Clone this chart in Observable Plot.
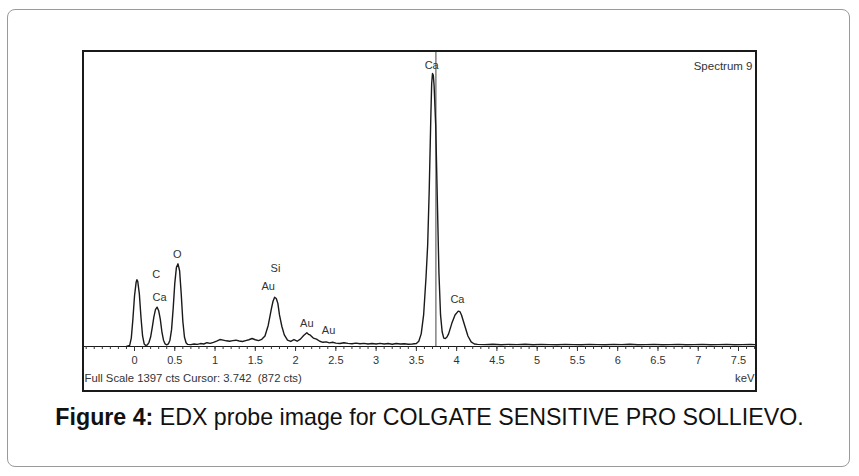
<!DOCTYPE html>
<html>
<head>
<meta charset="utf-8">
<script src="https://cdn.jsdelivr.net/npm/d3@7"></script>
<script src="https://cdn.jsdelivr.net/npm/@observablehq/plot@0.6"></script>
<style>
  html, body { margin: 0; padding: 0; background: #fff; }
  body { width: 859px; height: 476px; position: relative; overflow: hidden; font-family: "Liberation Sans", Arial, sans-serif; }
  #outer { position: absolute; left: 7px; top: 9px; width: 843px; height: 458px; border: 1px solid #9a9a9a; border-radius: 8px; box-sizing: border-box; }
  #box { position: absolute; left: 82px; top: 50px; width: 671px; height: 338px; border: 2px solid #1a1a1a; }
  #box svg { display: block; }
  #caption { position: absolute; left: 0; width: 859px; top: 403px; text-align: center; font-size: 23.2px; line-height: 28px; color: #111; }
</style>
</head>
<body>
<div id="outer"></div>
<div id="box"></div>
<div id="caption"><b>Figure 4:</b> EDX probe image for COLGATE SENSITIVE PRO SOLLIEVO.</div>
<script>
// Spectrum: energy (keV) and counts
const energy = [
  -0.10, -0.06, -0.04, -0.02, 0.00, 0.02, 0.03, 0.04, 0.06, 0.08, 0.10, 0.12, 0.14, 0.16, 0.18,
  0.20, 0.22, 0.24, 0.26, 0.28, 0.30, 0.32, 0.34, 0.36, 0.38, 0.40, 0.42, 0.44, 0.46, 0.48,
  0.50, 0.52, 0.54, 0.56, 0.58, 0.60, 0.62, 0.64, 0.66, 0.70, 0.74, 0.78, 0.82, 0.86, 0.90,
  0.94, 0.98, 1.02, 1.06, 1.10, 1.14, 1.18, 1.22, 1.26, 1.30, 1.34, 1.38, 1.42, 1.46, 1.50,
  1.54, 1.58, 1.62, 1.66, 1.70, 1.72, 1.74, 1.76, 1.78, 1.80, 1.83, 1.86, 1.90, 1.94, 1.98,
  2.02, 2.06, 2.10, 2.14, 2.16, 2.18, 2.22, 2.26, 2.30, 2.34, 2.38, 2.42, 2.46, 2.50, 2.55,
  2.60, 2.65, 2.70, 2.75, 2.80, 2.85, 2.90, 2.95, 3.00, 3.05, 3.10, 3.15, 3.20, 3.25, 3.30,
  3.35, 3.40, 3.45, 3.50, 3.53, 3.56, 3.59, 3.62, 3.64, 3.66, 3.68, 3.69, 3.70, 3.71, 3.72,
  3.74, 3.76, 3.78, 3.80, 3.82, 3.84, 3.86, 3.88, 3.90, 3.94, 3.98, 4.02, 4.04, 4.06, 4.10,
  4.14, 4.18, 4.22, 4.26, 4.35, 4.45, 4.55, 4.65, 4.75, 4.85, 4.95, 5.05, 5.15, 5.25, 5.35,
  5.45, 5.55, 5.65, 5.75, 5.85, 5.95, 6.05, 6.15, 6.25, 6.35, 6.45, 6.55, 6.65, 6.75, 6.85,
  6.95, 7.05, 7.15, 7.25, 7.35, 7.45, 7.55, 7.65, 7.71
];
const counts = [
  0, 5, 40, 130, 240, 305, 317, 310, 250, 140, 50, 12, 5, 8, 20,
  45, 90, 140, 175, 187, 170, 130, 70, 30, 12, 8, 12, 30, 80, 180,
  300, 375, 393, 360, 250, 120, 45, 18, 10, 9, 12, 10, 14, 12, 18,
  15, 20, 26, 33, 30, 27, 25, 28, 30, 26, 24, 28, 32, 38, 32,
  28, 34, 50, 100, 180, 215, 234, 228, 205, 150, 95, 55, 30, 24, 33,
  25, 35, 52, 65, 58, 55, 40, 35, 25, 20, 22, 17, 20, 16, 14,
  18, 15, 13, 16, 13, 15, 12, 14, 12, 15, 12, 14, 11, 14, 12,
  13, 11, 12, 14, 25, 60, 150, 330, 480, 750, 1100, 1250, 1297, 1290, 1240,
  1050, 700, 350, 150, 70, 40, 38, 45, 60, 110, 150, 168, 166, 150, 100,
  50, 22, 12, 10, 9, 11, 8, 10, 9, 11, 8, 10, 9, 8, 10,
  9, 8, 10, 9, 8, 10, 9, 11, 8, 9, 10, 8, 9, 10, 8,
  9, 10, 8, 9, 10, 8, 9, 10, 9
];

// Peak labels
const peakLabels = ["C", "Ca", "O", "Si", "Au", "Au", "Au", "Ca", "Ca"];
const peakEnergy = [0.27, 0.31, 0.53, 1.75, 1.66, 2.14, 2.41, 3.69, 4.01];
const peakCounts = [342, 233, 437, 371, 285, 109, 76, 1335, 223];

// Axis ticks
const majorTicks = [0, 0.5, 1, 1.5, 2, 2.5, 3, 3.5, 4, 4.5, 5, 5.5, 6, 6.5, 7, 7.5];
const majorTickLabels = ["0", "0.5", "1", "1.5", "2", "2.5", "3", "3.5", "4", "4.5", "5", "5.5", "6", "6.5", "7", "7.5"];
const minorTicks = d3.range(-6, 78).map(i => i / 10);

const cursorKeV = 3.742;
const fullScale = 1397;
const spectrumName = "Spectrum 9";
const statusText = "Full Scale 1397 cts Cursor: 3.742  (872 cts)";
const unitText = "keV";

const spectrum = energy.map((e, i) => ({keV: e, cts: counts[i]}));
const labels = peakLabels.map((t, i) => ({t, keV: peakEnergy[i], cts: peakCounts[i]}));

const chart = Plot.plot({
  width: 671,
  height: 338,
  marginLeft: 0,
  marginRight: 0,
  marginTop: 0,
  marginBottom: 44,
  x: {domain: [-0.621, 7.711]},
  y: {domain: [0, fullScale], axis: null},
  style: {fontFamily: "'Liberation Sans', Arial, sans-serif", fontSize: "11px", color: "#333", background: "white"},
  marks: [
    Plot.ruleX([cursorKeV], {y1: 0, y2: fullScale, stroke: "#8a8a8a", strokeWidth: 1.6}),
    Plot.ruleY([0], {stroke: "#1a1a1a", strokeWidth: 1.2}),
    Plot.axisX({ticks: minorTicks, tickSize: 3, tickFormat: () => "", stroke: "#333", label: null}),
    Plot.axisX({ticks: majorTicks, tickSize: 5, tickPadding: 5, tickFormat: d => majorTickLabels[majorTicks.indexOf(d)], stroke: "#333", fill: "#333", fontSize: 11, label: null}),
    Plot.line(spectrum, {x: "keV", y: "cts", stroke: "#1a1a1a", strokeWidth: 1.4}),
    Plot.text(labels, {x: "keV", y: "cts", text: "t", fill: "#333", fontSize: 11}),
    Plot.text([spectrumName], {frameAnchor: "top-right", dx: -3, dy: 9, fill: "#333", fontSize: 11.5}),
    Plot.text([statusText], {frameAnchor: "bottom-left", textAnchor: "start", dx: 0, dy: 35, fill: "#333", fontSize: 11.3}),
    Plot.text([unitText], {frameAnchor: "bottom-right", textAnchor: "end", dx: -1, dy: 35, fill: "#333", fontSize: 11.3})
  ]
});
document.getElementById("box").appendChild(chart);
</script>
</body>
</html>
